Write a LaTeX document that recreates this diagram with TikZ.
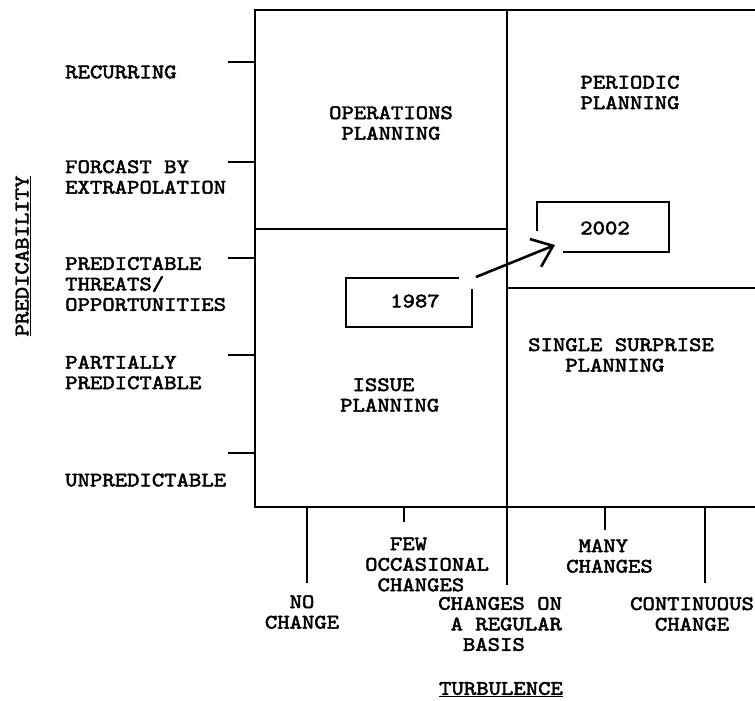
\documentclass[tikz,border=0pt]{standalone}
\usepackage{fontspec}
\setmonofont{lmmono10-regular.otf}[FakeStretch=1.15,FakeBold=2.4]
\usetikzlibrary{arrows.meta}
\begin{document}
\begin{tikzpicture}[x=1pt,y=-1pt,
  lbl/.style={font=\ttfamily\fontsize{20.5}{20.5}\selectfont, inner sep=0pt},
  frame/.style={line width=2.8pt},
  tick/.style={line width=2.5pt},
  boxline/.style={line width=2.5pt},
  arr/.style={line width=2.6pt, -{Straight Barb[length=19pt,width=30pt]}}]
\useasboundingbox (0,0) rectangle (755,701);
% frame
\draw[frame] (755,10) -- (255,10) -- (255,507) -- (755,507);
\draw[frame] (507,10) -- (507,585);
\draw[frame] (255,229) -- (507,229);
\draw[frame] (507,288) -- (755,288);
% left ticks
\foreach \yy in {62,162,258,355,453} \draw[tick] (228,\yy) -- (255,\yy);
% bottom ticks
\draw[tick] (307,507) -- (307,583);
\draw[tick] (404,507) -- (404,522);
\draw[tick] (605,507) -- (605,530);
\draw[tick] (705,507) -- (705,583);
% quadrant labels
\node[lbl, align=center] (ops) at (391,123) {OPERATIONS\\PLANNING};
\node[lbl, align=center] (per) at (630,92.5) {PERIODIC\\PLANNING};
\node[lbl, anchor=west, align=left] (iss) at (340,395) {\phantom{X}ISSUE\\PLANNING};
\node[lbl, anchor=west, align=left] (sing) at (528,355) {SINGLE SURPRISE\\\phantom{XXX}PLANNING};
% year boxes
\node[lbl] (y87) at (415,301) {1987};
\node[lbl] (y02) at (605,228) {2002};
\draw[boxline] (459,278) -- (346,278) -- (346,327) -- (472,327) -- (472,289);
\draw[boxline] (537,231) -- (537,202) -- (669,202) -- (669,252) -- (563,252);
\coordinate (a1) at (476,277);
\coordinate (a2) at (555,245);
\draw[arr] (a1) -- (a2);
% left axis labels
\node[lbl, anchor=west] (rec) at (65,72) {RECURRING};
\node[lbl, anchor=west, align=left] (fore) at (65,177) {FORCAST BY\\EXTRAPOLATION};
\node[lbl, anchor=west, align=left] (pto) at (65,284) {PREDICTABLE\\THREATS/\\OPPORTUNITIES};
\node[lbl, anchor=west, align=left] (part) at (65,372.5) {PARTIALLY\\PREDICTABLE};
\node[lbl, anchor=west] (unp) at (65,480) {UNPREDICTABLE};
\node[lbl, rotate=90] (pred) at (23,256) {\underline{PREDICABILITY}};
% bottom axis labels
\node[lbl, align=center] (noch) at (302,612) {NO\\CHANGE};
\node[lbl, anchor=west, align=left] (few) at (365,564.5) {\phantom{XX}FEW\\OCCASIONAL\\\phantom{X}CHANGES};
\node[lbl, anchor=west, align=left] (reg) at (438,624) {CHANGES ON\\\phantom{X}A REGULAR\\\phantom{XX}BASIS};
\node[lbl, anchor=west, align=left] (many) at (566,556) {\phantom{X}MANY\\CHANGES};
\node[lbl, align=center] (cont) at (692,614) {CONTINUOUS\\CHANGE};
\node[lbl] (turb) at (501,689.5) {\underline{TURBULENCE}};
\end{tikzpicture}
\end{document}
